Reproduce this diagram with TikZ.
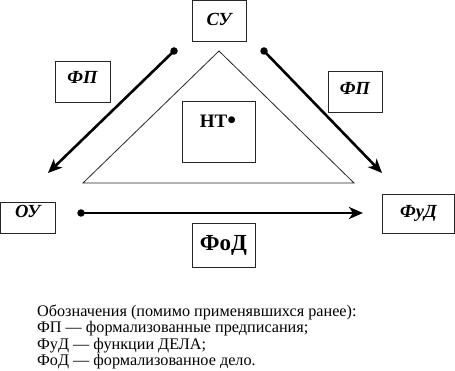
\documentclass[tikz,border=0pt]{standalone}
\usepackage{fontspec}
\setmainfont{Liberation Serif}
\usetikzlibrary{arrows.meta}
\begin{document}
\begin{tikzpicture}[x=1pt,y=-1pt,
  box/.style={draw=black!85, line width=0.8pt, inner sep=0pt},
  bi/.style={font=\bfseries\itshape\fontsize{18.5}{20}\selectfont, text height=12.1pt},
  bu/.style={font=\bfseries\fontsize{23}{25}\selectfont, text height=15pt},
  flow/.style={line width=2.6pt, -{Stealth[length=14pt,width=12pt,inset=4pt]}},
  dotc/.style={circle, fill=black, inner sep=0pt, minimum size=7.5pt}]
\useasboundingbox (0,0) rectangle (455,371);
% boxes
\node[box, bi, text depth=3pt, minimum width=54pt, minimum height=41pt] (su) at (219,20.5) {СУ};
\node[box, bi, text depth=8pt, minimum width=55pt, minimum height=41pt] (fpl) at (82.5,81.5) {ФП};
\node[box, bi, text depth=6pt, minimum width=54pt, minimum height=41pt] (fpr) at (355,91.5) {ФП};
\node[box, bi, text depth=13pt, minimum width=54.5pt, minimum height=31pt] (ou) at (27.7,217.5) {ОУ};
\node[box, bi, text depth=5pt, minimum width=72.5pt, minimum height=39pt] (fud) at (418.5,213.5) {ФуД};
\node[box, bu, text depth=4pt, minimum width=63pt, minimum height=44pt] (fod) at (223.5,245) {ФоД};
% triangle
\draw[line width=0.8pt, draw=black!85] (219,51) -- (83,183) -- (354,183) -- cycle;
\node[box, minimum width=73pt, minimum height=61pt] (nt) at (218.5,131.5) {};
\node[anchor=base, inner sep=0pt, font=\bfseries\fontsize{19}{21}\selectfont] (ntl) at (218,128) {НТ{\fontsize{25}{25}\selectfont\raisebox{-1pt}{•}}};
% arrows
\coordinate (l1) at (174,51); \coordinate (l2) at (48,173);
\coordinate (r1) at (264,51); \coordinate (r2) at (382,173);
\coordinate (h1) at (81,213); \coordinate (h2) at (363,213);
\draw[flow] (l1) -- (l2);
\draw[flow] (r1) -- (r2);
\draw[flow] (h1) -- (h2);
\node[dotc] (dl) at (l1) {};
\node[dotc] (dr) at (r1) {};
\node[dotc] (dh) at (h1) {};
% legend
\node[anchor=base west, inner sep=0pt, align=left,
  font=\fontsize{16.2}{16.3}\selectfont] (leg) at (37,365.3)
  {Обозначения (помимо применявшихся ранее):\\
   ФП — формализованные предписания;\\
   ФуД — функции ДЕЛА;\\
   ФоД — формализованное дело.};
\end{tikzpicture}
\end{document}
